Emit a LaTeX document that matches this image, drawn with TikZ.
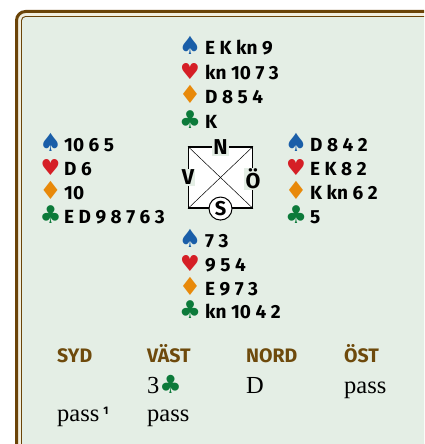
\documentclass[tikz,border=0pt]{standalone}
\usepackage{fontspec}
\newfontfamily\handf{Fira Sans}
\newfontfamily\headf{Fira Sans}
\newfontfamily\suitf{DejaVu Sans}
\newfontfamily\bidf{Liberation Serif}
\definecolor{bgg}{HTML}{E4EEE5}
\definecolor{cream}{HTML}{F2EFDF}
\definecolor{frbrown}{HTML}{6B4408}
\definecolor{hdbrown}{HTML}{6E4A0C}
\definecolor{spc}{HTML}{1A5EA8}
\definecolor{hrc}{HTML}{D51F26}
\definecolor{dic}{HTML}{E8890A}
\definecolor{clc}{HTML}{0C7A3A}
\newcommand{\Sp}{{\color{spc}\suitf\fontsize{25}{26}\selectfont ♠}}
\newcommand{\Hr}{{\color{hrc}\suitf\fontsize{22}{24}\selectfont ♥}}
\newcommand{\Di}{{\color{dic}\suitf\fontsize{25}{26}\selectfont ♦}}
\newcommand{\Cl}{{\color{clc}\suitf\fontsize{24.5}{26}\selectfont ♣}}
\tikzset{
  handtxt/.style={anchor=base west, inner sep=0pt, font=\handf\bfseries\fontsize{19}{20}\selectfont},
  suitsym/.style={anchor=base, inner sep=0pt},
  dirlab/.style={inner sep=1.2pt, fill=bgg, font=\headf\bfseries\fontsize{21.5}{22}\selectfont},
  bidhead/.style={anchor=base west, inner sep=0pt, text=hdbrown, font=\headf\bfseries\fontsize{19.5}{20}\selectfont},
  bid/.style={anchor=base west, inner sep=0pt, font=\bidf\fontsize{24.5}{26}\selectfont},
}
\begin{document}
\begin{tikzpicture}[x=1pt,y=-1pt]
\useasboundingbox (0,0) rectangle (424,444);
\clip (0,0) rectangle (424,444);
\fill[white] (0,0) rectangle (424,444);
\draw[line width=3pt, frbrown, fill=cream, rounded corners=9pt] (16.5,11.5) rectangle (460,480);
\draw[line width=0.9pt, frbrown, fill=bgg, rounded corners=4pt] (21.5,16.5) rectangle (455,475);

% North
\node[suitsym] (ns) at (190,54.5) {\Sp};
\node[handtxt] (nst) at (205,54.5) {E K kn 9};
\node[suitsym] (nh) at (190,79) {\Hr};
\node[handtxt] (nht) at (205,79) {kn 10 7 3};
\node[suitsym] (nd) at (190,103.5) {\Di};
\node[handtxt] (ndt) at (205,103.5) {D 8 5 4};
\node[suitsym] (nc) at (190,128) {\Cl};
\node[handtxt] (nct) at (205,128) {K};

% West
\node[suitsym] (ws) at (50.5,151.5) {\Sp};
\node[handtxt] (wst) at (64,151.5) {10 6 5};
\node[suitsym] (wh) at (50.5,175.5) {\Hr};
\node[handtxt] (wht) at (64,175.5) {D 6};
\node[suitsym] (wd) at (50.5,199.5) {\Di};
\node[handtxt] (wdt) at (64,199.5) {10};
\node[suitsym] (wc) at (50.5,223.5) {\Cl};
\node[handtxt] (wct) at (64,223.5) {E D 9 8 7 6 3};

% East
\node[suitsym] (es) at (296,151.5) {\Sp};
\node[handtxt] (est) at (310,151.5) {D 8 4 2};
\node[suitsym] (eh) at (296,175.5) {\Hr};
\node[handtxt] (eht) at (310,175.5) {E K 8 2};
\node[suitsym] (ed) at (296,199.5) {\Di};
\node[handtxt] (edt) at (310,199.5) {K kn 6 2};
\node[suitsym] (ec) at (296,223.5) {\Cl};
\node[handtxt] (ect) at (310,223.5) {5};

% South
\node[suitsym] (ss) at (190,247.5) {\Sp};
\node[handtxt] (sst) at (205,247.5) {7 3};
\node[suitsym] (sh) at (190,271) {\Hr};
\node[handtxt] (sht) at (205,271) {9 5 4};
\node[suitsym] (sd) at (190,295) {\Di};
\node[handtxt] (sdt) at (205,295) {E 9 7 3};
\node[suitsym] (sc) at (190,318.5) {\Cl};
\node[handtxt] (sct) at (205,318.5) {kn 10 4 2};

% Compass
\node[draw=black, fill=white, line width=1.1pt, minimum width=64pt, minimum height=61pt, inner sep=0pt] (box) at (220.5,177.5) {};
\draw[line width=0.5pt] (box.north west) -- (box.south east);
\draw[line width=0.5pt] (box.north east) -- (box.south west);
\node[dirlab] (lN) at ([yshift=-1pt]box.north) {N};
\node[dirlab] (lV) at (box.west) {V};
\node[dirlab] (lO) at ([yshift=-1.5pt]box.east) {Ö};
\node[draw=black, line width=1pt, fill=white, circle, minimum size=23pt, inner sep=0pt, font=\headf\bfseries\fontsize{20}{20}\selectfont] (lS) at (box.south) {S};

% Bidding
\node[bidhead] (hS) at (57,362) {SYD};
\node[bidhead] (hV) at (147,362) {VÄST};
\node[bidhead] (hN) at (246,362) {NORD};
\node[bidhead] (hO) at (344,362) {ÖST};
\node[bid] (b1) at (147,393) {3{\color{clc}\suitf\fontsize{25}{26}\selectfont ♣}};
\node[bid] (b2) at (246,393) {D};
\node[bid] (b3) at (344,393) {pass};
\node[bid] (b4) at (57,421.5) {pass\,\raisebox{7pt}{\headf\bfseries\fontsize{11}{12}\selectfont 1}};
\node[bid] (b5) at (147,421.5) {pass};
\end{tikzpicture}
\end{document}
